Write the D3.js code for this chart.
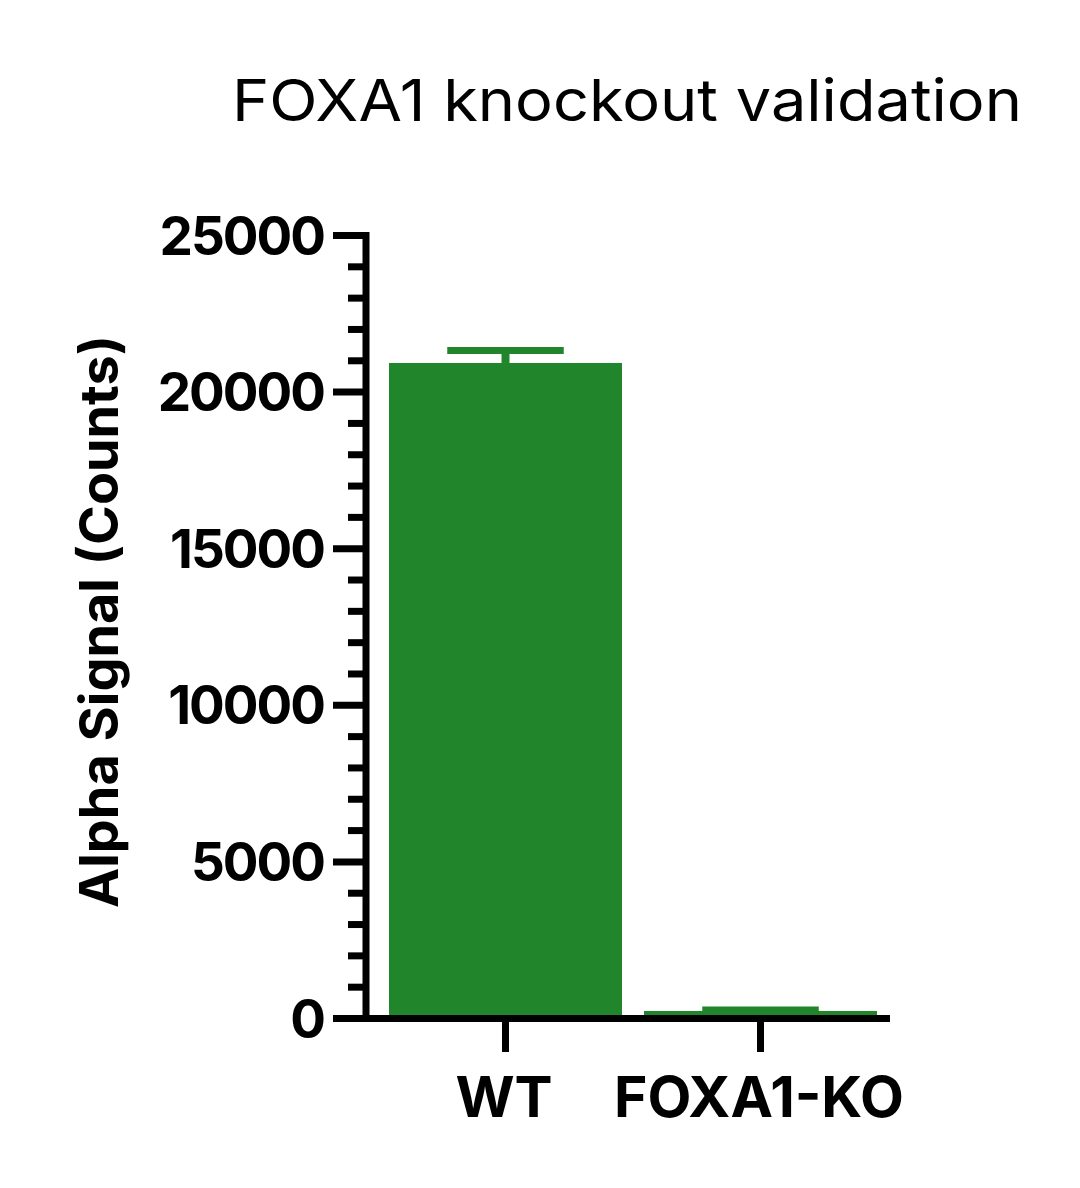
<!DOCTYPE html>
<html><head><meta charset="utf-8">
<script src="https://cdn.jsdelivr.net/npm/d3@7"></script>
<style>html,body{margin:0;padding:0;background:#fff;}</style>
</head><body>
<svg id="c" width="1080" height="1188"></svg>
<script>
const categories = ["WT", "FOXA1-KO"];
const means = [20930, 240];
const errors = [400, 30];
const yTicks = [0, 5000, 10000, 15000, 20000, 25000];
const yMinorTicks = d3.range(0, 25001, 1000);
const title = "FOXA1 knockout validation";
const yLabel = "Alpha Signal (Counts)";

const green = "#21852b";
const svg = d3.select("#c");
const y = d3.scaleLinear().domain([0, 25000]).range([1018.5, 235.5]);
const x = d3.scaleBand().domain(categories).range([378, 888]).paddingInner(22/255).paddingOuter(11/255);
const axisX = 366;
const lw = 7;
const fontB = "Inter, 'Liberation Sans', Arial, sans-serif";

// bars
svg.selectAll("rect.bar").data(categories).enter().append("rect")
  .attr("x", d => x(d)).attr("width", x.bandwidth())
  .attr("y", (d,i) => y(means[i])).attr("height", (d,i) => y(0) - y(means[i]))
  .attr("fill", green);
// error bars (upper only)
categories.forEach((c,i) => {
  const cx = x(c) + x.bandwidth()/2;
  const top = y(means[i] + errors[i]);
  svg.append("line").attr("x1", cx).attr("x2", cx).attr("y1", y(means[i])).attr("y2", top)
    .attr("stroke", green).attr("stroke-width", 8);
  svg.append("line").attr("x1", cx - x.bandwidth()/4).attr("x2", cx + x.bandwidth()/4)
    .attr("y1", top).attr("y2", top).attr("stroke", green).attr("stroke-width", 7);
});

// y axis
svg.append("line").attr("x1", axisX).attr("x2", axisX).attr("y1", y(25000) - lw/2).attr("y2", y(0))
  .attr("stroke", "#000").attr("stroke-width", lw);
svg.selectAll("line.minor").data(yMinorTicks.filter(v => v % 5000 !== 0)).enter().append("line")
  .attr("x1", 348).attr("x2", axisX).attr("y1", d => y(d)).attr("y2", d => y(d))
  .attr("stroke", "#000").attr("stroke-width", lw);
svg.selectAll("line.major").data(yTicks).enter().append("line")
  .attr("x1", 333).attr("x2", axisX).attr("y1", d => y(d)).attr("y2", d => y(d))
  .attr("stroke", "#000").attr("stroke-width", lw);
svg.selectAll("text.yt").data(yTicks).enter().append("text")
  .attr("x", 324).attr("y", d => y(d) + 19).attr("text-anchor", "end")
  .attr("font-family", fontB).attr("font-weight", 700).attr("font-size", 53)
  .attr("letter-spacing", -2)
  .text(d => d);

// x axis
svg.append("line").attr("x1", 333).attr("x2", 890).attr("y1", y(0)).attr("y2", y(0))
  .attr("stroke", "#000").attr("stroke-width", lw);
svg.selectAll("line.xt").data(categories).enter().append("line")
  .attr("x1", d => x(d) + x.bandwidth()/2).attr("x2", d => x(d) + x.bandwidth()/2)
  .attr("y1", y(0)).attr("y2", 1052).attr("stroke", "#000").attr("stroke-width", lw);
svg.selectAll("text.xl").data(categories).enter().append("text")
  .attr("x", d => x(d) + x.bandwidth()/2 - 1.5).attr("y", 1117).attr("text-anchor", "middle")
  .attr("font-family", fontB).attr("font-weight", 700).attr("font-size", 57)
  .text(d => d);

// y label
svg.append("text").attr("transform", "translate(118,621.5) rotate(-90)")
  .attr("text-anchor", "middle").attr("font-family", fontB).attr("font-weight", 700)
  .attr("font-size", 53).attr("textLength", 573).attr("lengthAdjust", "spacingAndGlyphs").text(yLabel);

// title
svg.append("text").attr("x", 627).attr("y", 121).attr("text-anchor", "middle")
  .attr("font-family", "Inter, 'Liberation Sans', sans-serif").attr("font-weight", 400)
  .attr("font-size", 58).attr("textLength", 790).attr("lengthAdjust", "spacingAndGlyphs").text(title);
</script>
</body></html>
